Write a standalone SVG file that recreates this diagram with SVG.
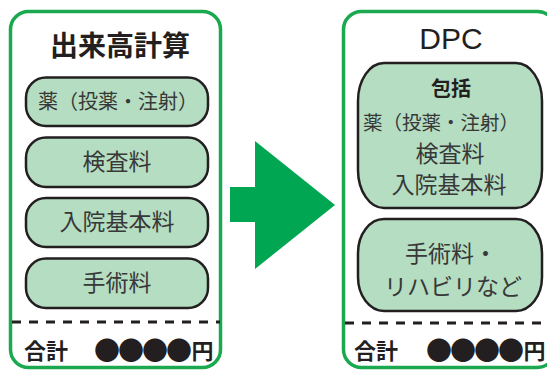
<svg xmlns="http://www.w3.org/2000/svg" width="547" height="370" viewBox="0 0 547 370">
<style>
.panel{fill:#fff;stroke:#1aa94f;stroke-width:3.5}
.pill{fill:#b4ddc2;stroke:#231f20;stroke-width:2.5}
.dash{stroke:#231f20;stroke-width:3;stroke-dasharray:9 8;fill:none}
text{font-family:"Noto Sans CJK JP","Noto Sans",sans-serif;fill:#383838}
.t{font-size:23px;text-anchor:middle}
.title{font-size:28px;font-weight:bold;fill:#231f20;text-anchor:middle}
.sum{font-size:22px;font-weight:bold;fill:#231f20}
.amt{fill:#231f20;text-anchor:middle}
.dot{font-size:26px}
.yen{font-size:22px;font-weight:bold}
</style>
<rect width="547" height="370" fill="#fff"/>
<g id="left-panel">
<rect class="panel" x="10.5" y="11.5" width="210" height="356" rx="18"/>
<text class="title" x="120" y="56">出来高計算</text>
</g>
<g id="left-drug"><rect class="pill" x="26" y="77.5" width="182" height="48.5" rx="20"/><text class="t" x="118" y="109" style="font-size:20px">薬（投薬・注射）</text></g>
<g id="left-exam"><rect class="pill" x="26" y="137.5" width="182" height="49.5" rx="20"/><text class="t" x="117" y="170">検査料</text></g>
<g id="left-hosp"><rect class="pill" x="26" y="198" width="182" height="49" rx="20"/><text class="t" x="117" y="230">入院基本料</text></g>
<g id="left-surg"><rect class="pill" x="26" y="258.5" width="182" height="49.5" rx="20"/><text class="t" x="117" y="291">手術料</text></g>
<g id="left-total">
<line class="dash" x1="12" y1="322" x2="220" y2="322"/>
<text class="sum" x="24" y="359">合計</text>
<text class="amt" y="359"><tspan class="dot" x="107 131 155 179" y="360">●●●●</tspan><tspan class="yen" x="202.5" y="359">円</tspan></text>
</g>
<g id="arrow"><polygon points="230,187 255,187 255,141 335,205 255,269 255,222 230,222" fill="#00a651"/></g>
<g id="right-panel">
<rect class="panel" x="343.5" y="11.5" width="212" height="356" rx="18"/>
<text x="451" y="49" style="font-family:'Liberation Sans',Arial,sans-serif;font-size:30px;fill:#231f20;text-anchor:middle">DPC</text>
</g>
<g id="right-bundle">
<rect class="pill" x="358" y="63" width="184" height="145" rx="26" ry="38"/>
<text class="t" x="451" y="96" style="font-size:20px;font-weight:bold;fill:#231f20">包括</text>
<text class="t" x="441" y="130" style="font-size:19.5px">薬（投薬・注射）</text>
<text class="t" x="450" y="162">検査料</text>
<text class="t" x="449" y="193">入院基本料</text>
</g>
<g id="right-other">
<rect class="pill" x="358" y="219" width="184" height="92" rx="26" ry="34"/>
<text class="t" x="451" y="262">手術料・</text>
<text class="t" x="453" y="295">リハビリなど</text>
</g>
<g id="right-total">
<line class="dash" x1="345" y1="323" x2="547" y2="323"/>
<text class="sum" x="354" y="359">合計</text>
<text class="amt" y="359"><tspan class="dot" x="439 463 487 511" y="360">●●●●</tspan><tspan class="yen" x="534.5" y="359">円</tspan></text>
</g>
</svg>
